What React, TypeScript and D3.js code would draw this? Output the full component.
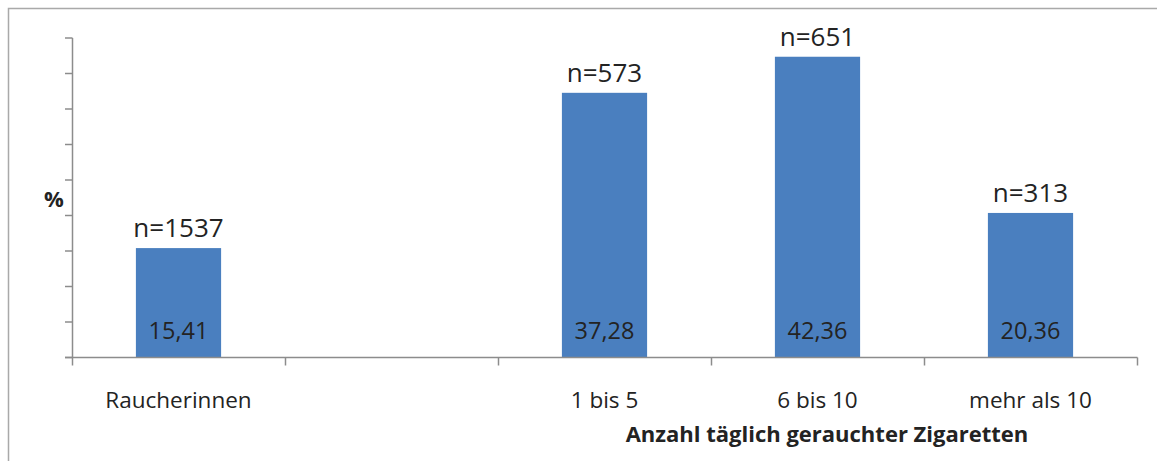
import React, { useEffect, useRef } from 'react';
import * as d3 from 'd3';

// categories (second slot is an empty gap in the original chart)
const categories = ['Raucherinnen', '', '1 bis 5', '6 bis 10', 'mehr als 10'];
const values: (number | null)[] = [15.41, null, 37.28, 42.36, 20.36];
const nLabels: (string | null)[] = ['n=1537', null, 'n=573', 'n=651', 'n=313'];
const yTicks = [0, 5, 10, 15, 20, 25, 30, 35, 40, 45];

const App = () => {
  const svgRef = useRef<SVGSVGElement>(null);

  useEffect(() => {
    if (!svgRef.current) return;
    const svg = d3.select(svgRef.current);
    svg.selectAll('*').remove();

    const width = 1157;
    const height = 461;
    const font = '"Open Sans", "Noto Sans", sans-serif';
    const textColor = '#232323';
    const axisColor = '#8c8c8c';

    svg.attr('width', width).attr('height', height);

    // outer frame (top and left edges only visible)
    svg.append('path')
      .attr('d', `M8.5,${height} V8.5 H${width}`)
      .attr('fill', 'none')
      .attr('stroke', '#a9a9a9')
      .attr('stroke-width', 1.5);

    const xScale = d3.scaleBand<string>()
      .domain(categories)
      .range([72, 1137])
      .paddingInner(0)
      .paddingOuter(0);

    const yScale = d3.scaleLinear()
      .domain([0, 45])
      .range([357.5, 38]);

    const barW = xScale.bandwidth() * 0.4;

    // bars
    const data = categories.map((c, i) => ({ c, v: values[i], n: nLabels[i] }))
      .filter(d => d.v !== null) as { c: string; v: number; n: string }[];

    svg.append('g')
      .selectAll('rect')
      .data(data)
      .join('rect')
      .attr('x', d => (xScale(d.c) as number) + (xScale.bandwidth() - barW) / 2)
      .attr('width', barW)
      .attr('y', d => yScale(d.v))
      .attr('height', d => yScale(0) - yScale(d.v))
      .attr('fill', '#4a7fbf');

    // y axis
    const yAxis = svg.append('g').attr('stroke', axisColor).attr('stroke-width', 1.5);
    yAxis.append('line')
      .attr('x1', 72.5).attr('x2', 72.5)
      .attr('y1', yScale(45)).attr('y2', yScale(0));
    yAxis.selectAll('line.tick')
      .data(yTicks)
      .join('line')
      .attr('class', 'tick')
      .attr('x1', 65).attr('x2', 72.5)
      .attr('y1', d => yScale(d)).attr('y2', d => yScale(d));

    // x axis
    const step = xScale.step();
    const boundaries = d3.range(categories.length + 1).map(i => xScale.range()[0] + i * step);
    const xAxis = svg.append('g').attr('stroke', axisColor).attr('stroke-width', 1.5);
    xAxis.append('line')
      .attr('x1', 65).attr('x2', xScale.range()[1] + 0.5)
      .attr('y1', yScale(0)).attr('y2', yScale(0));
    xAxis.selectAll('line.tick')
      .data(boundaries)
      .join('line')
      .attr('class', 'tick')
      .attr('x1', d => d + 0.5).attr('x2', d => d + 0.5)
      .attr('y1', yScale(0)).attr('y2', yScale(0) + 8);

    // category labels
    svg.append('g')
      .selectAll('text')
      .data(categories)
      .join('text')
      .attr('x', d => (xScale(d) as number) + xScale.bandwidth() / 2)
      .attr('y', 408)
      .attr('text-anchor', 'middle')
      .attr('font-family', font)
      .attr('font-size', 22.5)
      .attr('fill', textColor)
      .text(d => d);

    // n labels above bars
    svg.append('g')
      .selectAll('text')
      .data(data)
      .join('text')
      .attr('x', d => (xScale(d.c) as number) + xScale.bandwidth() / 2)
      .attr('y', d => yScale(d.v) - 11)
      .attr('text-anchor', 'middle')
      .attr('font-family', font)
      .attr('font-size', 26)
      .attr('fill', textColor)
      .text(d => d.n);

    // value labels inside bars
    svg.append('g')
      .selectAll('text')
      .data(data)
      .join('text')
      .attr('x', d => (xScale(d.c) as number) + xScale.bandwidth() / 2)
      .attr('y', 339)
      .attr('text-anchor', 'middle')
      .attr('font-family', font)
      .attr('font-size', 23.5)
      .attr('fill', textColor)
      .text(d => d.v.toFixed(2).replace('.', ','));

    // axis titles
    svg.append('text')
      .attr('x', 54)
      .attr('y', 207)
      .attr('text-anchor', 'middle')
      .attr('font-family', font)
      .attr('font-weight', 'bold')
      .attr('font-size', 22)
      .attr('fill', textColor)
      .text('%');

    svg.append('text')
      .attr('x', 827)
      .attr('y', 442)
      .attr('text-anchor', 'middle')
      .attr('font-family', font)
      .attr('font-weight', 'bold')
      .attr('font-size', 22)
      .attr('fill', textColor)
      .text('Anzahl täglich gerauchter Zigaretten');
  }, []);

  return (
    <div style={{ position: 'absolute', left: 0, top: 0, background: '#fff' }}>
      <svg ref={svgRef} style={{ display: 'block' }}></svg>
    </div>
  );
};

export default App;
